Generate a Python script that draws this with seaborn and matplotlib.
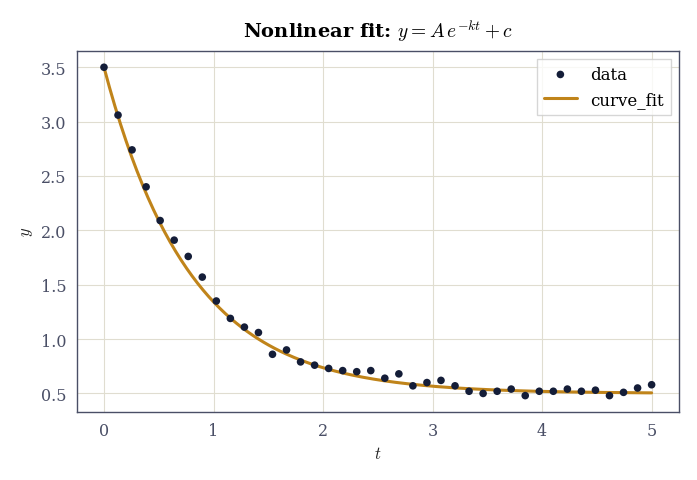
import numpy as np
import pandas as pd
import matplotlib
matplotlib.use("Agg")
import matplotlib.pyplot as plt
import seaborn as sns

# observed data
t_data = np.linspace(0, 5, 40)
y_data = [3.50, 3.06, 2.74, 2.40, 2.09, 1.91, 1.76, 1.57, 1.35, 1.19,
          1.11, 1.06, 0.86, 0.90, 0.79, 0.76, 0.73, 0.71, 0.70, 0.71,
          0.64, 0.68, 0.57, 0.60, 0.62, 0.57, 0.52, 0.50, 0.52, 0.54,
          0.48, 0.52, 0.52, 0.54, 0.52, 0.53, 0.48, 0.51, 0.55, 0.58]
# fitted parameters
A, k, c = 3.0, 1.27, 0.50

sns.set_theme(style="whitegrid")
plt.rcParams["font.family"] = ["DejaVu Serif"]
plt.rcParams["mathtext.fontset"] = "cm"

fig, ax = plt.subplots(figsize=(6.97, 4.81), dpi=100)
df = pd.DataFrame({"t": t_data, "y": y_data})
sns.scatterplot(data=df, x="t", y="y", ax=ax, color="#141d38", s=30,
                edgecolor="none", label="data", zorder=3)
t_fit = np.linspace(0, 5, 200)
sns.lineplot(x=t_fit, y=A * np.exp(-k * t_fit) + c, ax=ax, color="#c0841a",
             linewidth=2.2, label="curve_fit", zorder=2)

ax.set_xlabel("$t$", fontsize=12, color="#222222")
ax.set_ylabel("$y$", fontsize=12, color="#222222")
ax.set_title(r"Nonlinear fit: $y = A\,e^{-kt} + c$", fontsize=14,
             fontweight="bold", color="black", pad=10)
ax.set_yticks([0.5, 1.0, 1.5, 2.0, 2.5, 3.0, 3.5])
ax.set_xticks([0, 1, 2, 3, 4, 5])
ax.tick_params(colors="#4a4f66", labelsize=11.5, length=4)
ax.grid(color="#e0ddd0", linewidth=0.8)
for s in ax.spines.values():
    s.set_color("#4a4f66")
    s.set_linewidth(1.0)
leg = ax.legend(loc="upper right", fontsize=12, frameon=True, fancybox=False)
leg.get_frame().set_edgecolor("#cccccc")
for txt in leg.get_texts():
    txt.set_color("black")
fig.tight_layout()
fig.savefig("out.png", dpi=100)
